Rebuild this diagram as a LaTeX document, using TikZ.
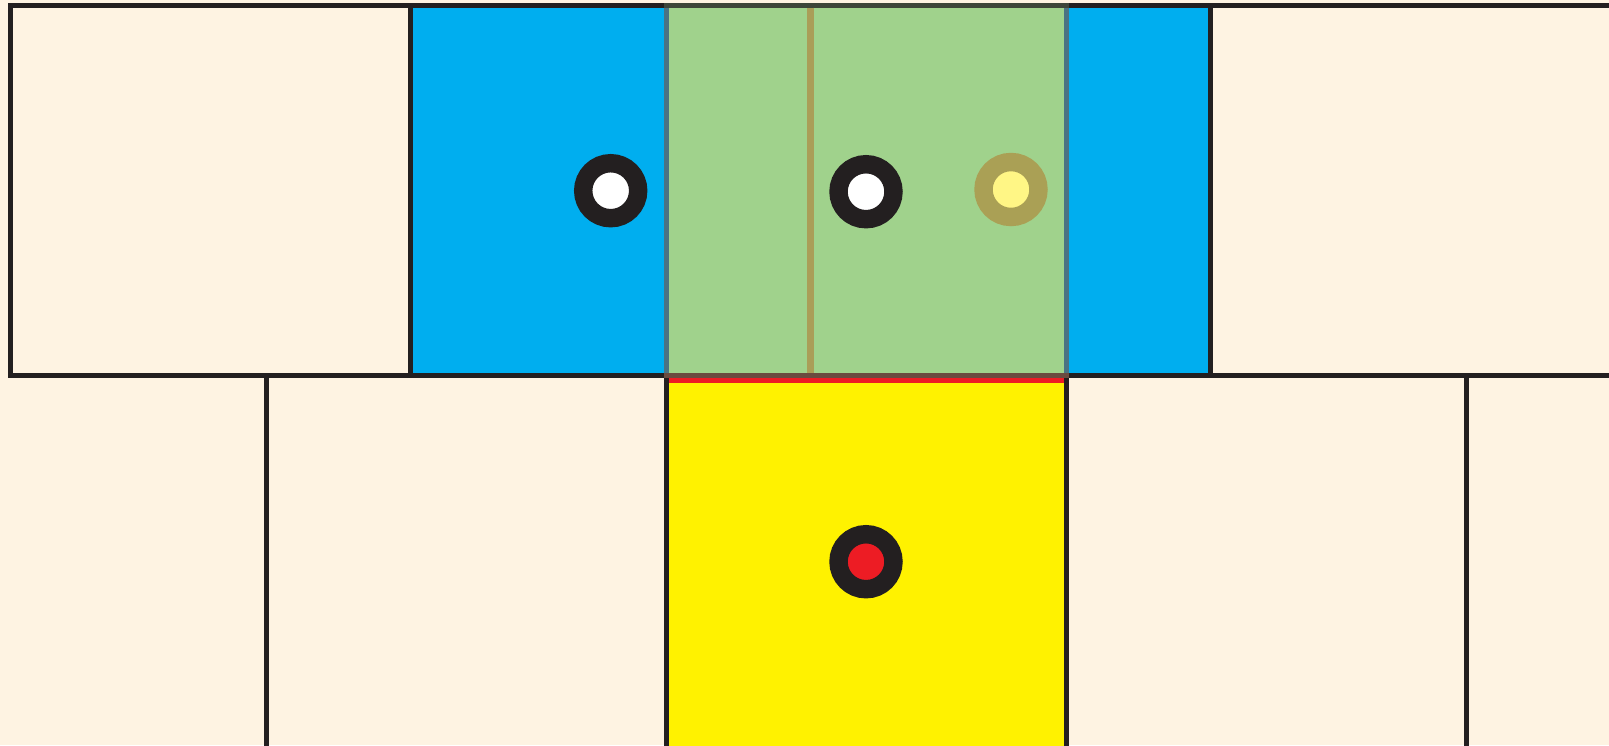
\documentclass[tikz,border=0pt]{standalone}
\definecolor{cream}{HTML}{FEF3E2}
\definecolor{cblue}{HTML}{00AEEF}
\definecolor{cgreen}{HTML}{A0D28C}
\definecolor{cyellow}{HTML}{FFF200}
\definecolor{cred}{HTML}{ED1C24}
\definecolor{cblack}{HTML}{231F20}
\definecolor{ctan}{HTML}{AA9E58}
\definecolor{cfadering}{HTML}{AAA055}
\definecolor{cfadein}{HTML}{FFF685}
\definecolor{gedge}{HTML}{4B7383}
\definecolor{gtop}{HTML}{3D4539}
\definecolor{gbot}{HTML}{6B4B3F}
\tikzset{
  cell/.style={draw=cblack, line width=5pt},
  sep/.style={draw=cblack, line width=5pt},
  ring/.style={circle, draw=cblack, line width=18.4pt, minimum size=55pt, inner sep=0pt, outer sep=0pt},
  faded/.style={ring, draw=cfadering, fill=cfadein},
}
\begin{document}
\begin{tikzpicture}[x=1pt,y=-1pt]
\useasboundingbox (0,0) rectangle (1609,745);
\clip (0,0) rectangle (1609,745);
\fill[cream] (0,0) rectangle (1609,745);
% bottom row: yellow cell
\fill[cyellow] (666,376) rectangle (1066,760);
% top row
\draw[cell, fill=cream] (10.3,5) rectangle (410.7,375.7);
\draw[cell, fill=cblue] (410.7,5) rectangle (1210.7,375.7);
\draw[cell, fill=cream] (1210.7,5) rectangle (1620,375.7);
% bottom row separators
\foreach \xx in {266,666,1066,1466} \draw[sep] (\xx,375.7) -- (\xx,760);
% green overlay
\fill[cgreen] (666,5) rectangle (1066,375.7);
\draw[gedge, line width=5pt] (666,5) -- (666,375.7);
\draw[gedge, line width=5pt] (1066,5) -- (1066,375.7);
\draw[gtop, line width=5pt] (663.5,5) -- (1068.5,5);
\draw[gbot, line width=5pt] (663.5,375.5) -- (1068.5,375.5);
\draw[cred, line width=4.2pt] (668.5,380.5) -- (1063.5,380.5);
\draw[ctan, line width=7pt] (810,7.5) -- (810,373);
% pegs
\node[ring, fill=white] (pblue) at (610.7,190.7) {};
\node[ring, fill=white] (pgreen) at (866,191.7) {};
\node[faded] (pfade) at (1011,189.5) {};
\node[ring, fill=cred] (pyellow) at (866,561.7) {};
\end{tikzpicture}
\end{document}
